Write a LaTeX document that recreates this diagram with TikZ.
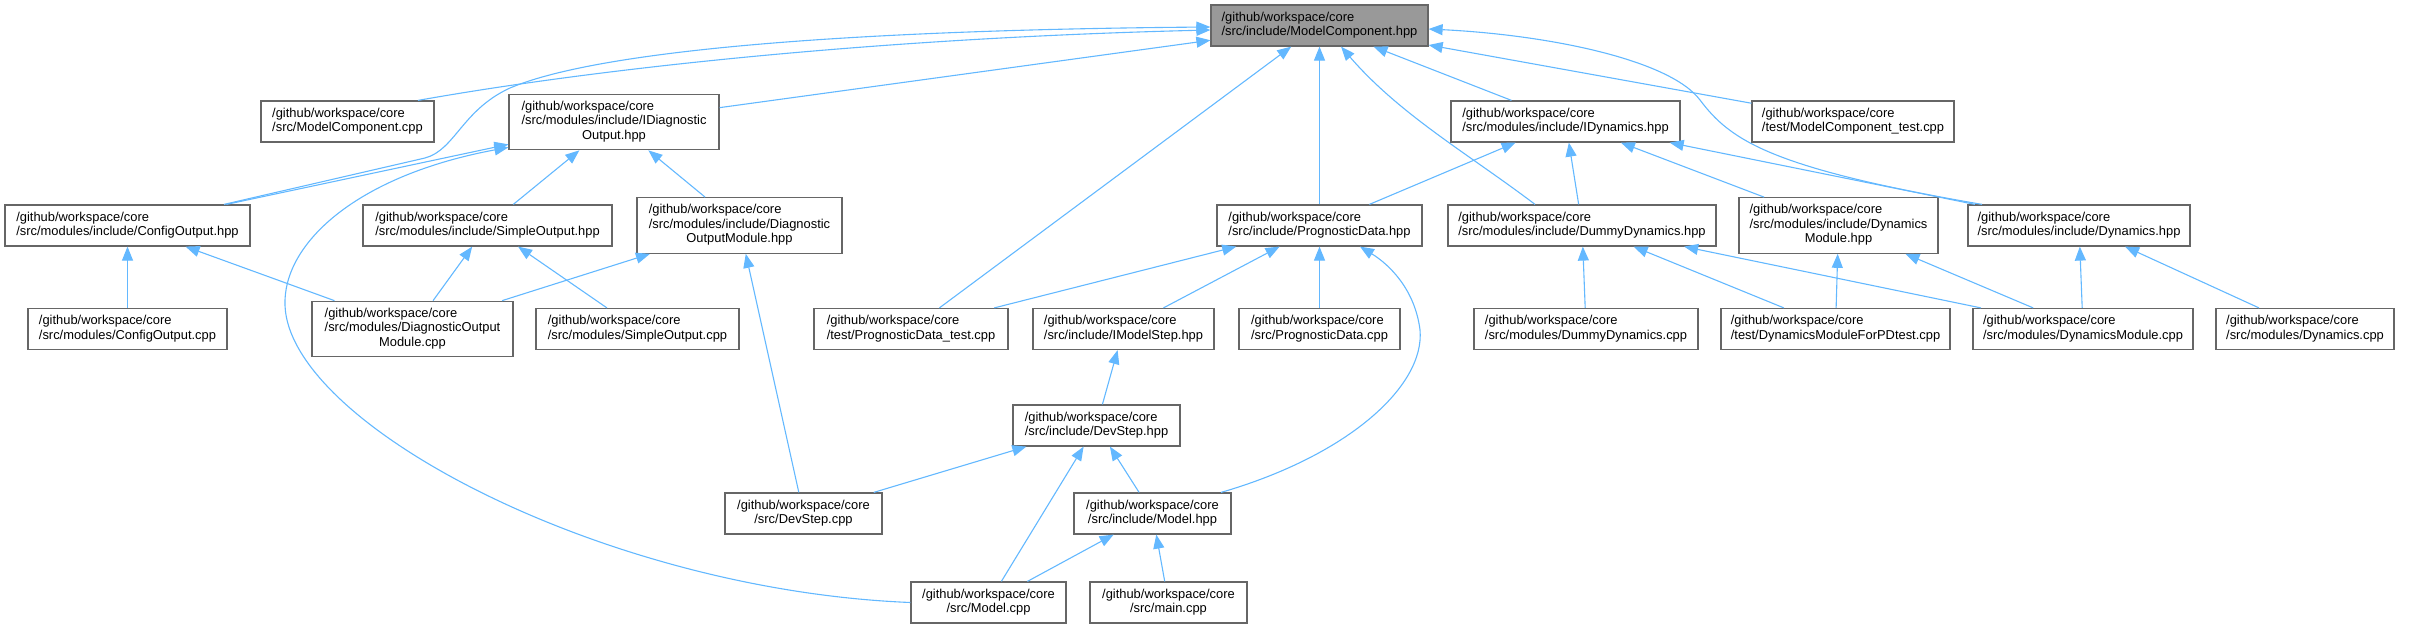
\documentclass[tikz,border=0pt]{standalone}
\usepackage{fontspec}
\setmainfont{Liberation Sans}
\usetikzlibrary{arrows.meta,calc}
\definecolor{edgeblue}{HTML}{63B8FF}
\definecolor{boxgray}{HTML}{666666}
\definecolor{rootgray}{HTML}{999999}
% first lines left, last line centred
\newcommand{\flabel}[2]{\begin{tabular}{@{}l@{}}#1\\\multicolumn{1}{@{}c@{}}{#2}\end{tabular}}

\begin{document}
\begin{tikzpicture}[x=1pt, y=-1pt,
    file/.style={draw=boxgray, fill=white, line width=1.2pt, inner sep=0pt, minimum height=41pt, font=\fontsize{12.9}{14.5}\selectfont},
    tall/.style={minimum height=55.5pt},
    root/.style={fill=rootgray},
    inc/.style={draw=edgeblue, line width=1.1pt, -{Triangle[length=14pt,width=11pt]}}]
\useasboundingbox (0,0) rectangle (2416,628);

% Root header
\node[file, root, minimum width=217pt] (mchpp) at (1319.5,25.5) {\flabel{/github/workspace/core}{/src/include/ModelComponent.hpp}};

% First level
\node[file, minimum width=173pt] (mccpp) at (347.5,121.5) {\flabel{/github/workspace/core}{/src/ModelComponent.cpp}};
\node[file, tall, minimum width=210pt] (idohpp) at (614,122) {\flabel{/github/workspace/core\\/src/modules/include/IDiagnostic}{Output.hpp}};
\node[file, minimum width=229pt] (idynhpp) at (1565.5,121.5) {\flabel{/github/workspace/core}{/src/modules/include/IDynamics.hpp}};
\node[file, minimum width=202pt] (mctest) at (1853,121.5) {\flabel{/github/workspace/core}{/test/ModelComponent\_test.cpp}};

% Second level
\node[file, minimum width=245pt] (cohpp) at (127.5,225.5) {\flabel{/github/workspace/core}{/src/modules/include/ConfigOutput.hpp}};
\node[file, minimum width=249pt] (sohpp) at (487.5,225.5) {\flabel{/github/workspace/core}{/src/modules/include/SimpleOutput.hpp}};
\node[file, tall, minimum width=205pt] (domhpp) at (739.5,225.5) {\flabel{/github/workspace/core\\/src/modules/include/Diagnostic}{OutputModule.hpp}};
\node[file, minimum width=205pt] (pdhpp) at (1319.5,225.5) {\flabel{/github/workspace/core}{/src/include/PrognosticData.hpp}};
\node[file, minimum width=268pt] (ddhpp) at (1582,225.5) {\flabel{/github/workspace/core}{/src/modules/include/DummyDynamics.hpp}};
\node[file, tall, minimum width=199pt] (dmhpp) at (1838.5,225.5) {\flabel{/github/workspace/core\\/src/modules/include/Dynamics}{Module.hpp}};
\node[file, minimum width=222pt] (dynhpp) at (2079,225.5) {\flabel{/github/workspace/core}{/src/modules/include/Dynamics.hpp}};

% Third level
\node[file, minimum width=199pt] (cocpp) at (127.5,329) {\flabel{/github/workspace/core}{/src/modules/ConfigOutput.cpp}};
\node[file, tall, minimum width=201pt] (domcpp) at (412.5,329) {\flabel{/github/workspace/core\\/src/modules/DiagnosticOutput}{Module.cpp}};
\node[file, minimum width=203pt] (socpp) at (637.5,329) {\flabel{/github/workspace/core}{/src/modules/SimpleOutput.cpp}};
\node[file, minimum width=194pt] (pdtest) at (911,329) {\flabel{/github/workspace/core}{/test/PrognosticData\_test.cpp}};
\node[file, minimum width=181pt] (imshpp) at (1123.5,329) {\flabel{/github/workspace/core}{/src/include/IModelStep.hpp}};
\node[file, minimum width=161pt] (pdcpp) at (1319.5,329) {\flabel{/github/workspace/core}{/src/PrognosticData.cpp}};
\node[file, minimum width=224pt] (ddcpp) at (1586,329) {\flabel{/github/workspace/core}{/src/modules/DummyDynamics.cpp}};
\node[file, minimum width=229pt] (dmpdtest) at (1835.5,329) {\flabel{/github/workspace/core}{/test/DynamicsModuleForPDtest.cpp}};
\node[file, minimum width=220pt] (dmcpp) at (2083,329) {\flabel{/github/workspace/core}{/src/modules/DynamicsModule.cpp}};
\node[file, minimum width=178pt] (dyncpp) at (2305,329) {\flabel{/github/workspace/core}{/src/modules/Dynamics.cpp}};

% Lower levels
\node[file, minimum width=167pt] (dshpp) at (1096.5,425.5) {\flabel{/github/workspace/core}{/src/include/DevStep.hpp}};
\node[file, minimum width=157pt] (dscpp) at (803.5,513.5) {\flabel{/github/workspace/core}{/src/DevStep.cpp}};
\node[file, minimum width=157pt] (mhpp) at (1152.5,513.5) {\flabel{/github/workspace/core}{/src/include/Model.hpp}};
\node[file, minimum width=155pt] (mcpp) at (988.5,602.5) {\flabel{/github/workspace/core}{/src/Model.cpp}};
\node[file, minimum width=157pt] (maincpp) at (1168.5,602.5) {\flabel{/github/workspace/core}{/src/main.cpp}};

% Includes of the root header
\draw[inc] ([xshift=70.5pt]mccpp.north) .. controls (600,68) and (880,38) .. ([yshift=-4.5pt]mchpp.west);
\draw[inc] ([xshift=96.5pt]cohpp.north) -- (425,158) .. controls (455,150) and (462,110) .. (510,88) .. controls (600,50) and (850,30) .. ([yshift=-1.5pt]mchpp.west);
\draw[inc] (idohpp) -- (mchpp);
\draw[inc] (pdtest) -- (mchpp);
\draw[inc] (pdhpp) -- (mchpp);
\draw[inc] ([xshift=-47pt]ddhpp.north) .. controls (1470,155) and (1400,115) .. ([xshift=21.5pt]mchpp.south);
\draw[inc] (idynhpp) -- (mchpp);
\draw[inc] (mctest) -- (mchpp);
\draw[inc] ([xshift=-97pt]dynhpp.north) .. controls (1770,168) and (1730,140) .. (1700,100) .. controls (1670,60) and (1550,35) .. ([yshift=-3.5pt]mchpp.east);

% Output headers
\draw[inc] (cohpp) -- (idohpp);
\draw[inc] (sohpp) -- (idohpp);
\draw[inc] (domhpp) -- (idohpp);
\draw[inc] (mcpp.west) .. controls (600,590) and (280,420) .. (285,300) .. controls (287,240) and (360,175) .. ([yshift=3pt]idohpp.south west);
\draw[inc] (cocpp) -- (cohpp);
\draw[inc] (domcpp) -- (cohpp);
\draw[inc] (domcpp) -- (sohpp);
\draw[inc] (domcpp) -- (domhpp);
\draw[inc] (socpp) -- (sohpp);
\draw[inc] (dscpp) -- (domhpp);

% Dynamics headers
\draw[inc] (pdhpp) -- (idynhpp);
\draw[inc] (ddhpp) -- (idynhpp);
\draw[inc] (dmhpp) -- (idynhpp);
\draw[inc] (dynhpp) -- (idynhpp);
\draw[inc] (ddcpp) -- (ddhpp);
\draw[inc] (dmpdtest) -- (ddhpp);
\draw[inc] (dmcpp) -- (ddhpp);
\draw[inc] (dmpdtest) -- (dmhpp);
\draw[inc] (dmcpp) -- (dmhpp);
\draw[inc] (dmcpp) -- (dynhpp);
\draw[inc] (dyncpp) -- (dynhpp);

% Prognostic data and steps
\draw[inc] (pdtest) -- (pdhpp);
\draw[inc] (imshpp) -- (pdhpp);
\draw[inc] (pdcpp) -- (pdhpp);
\draw[inc] ([xshift=68.5pt]mhpp.north) .. controls (1350,455) and (1425,385) .. (1420,330) .. controls (1415,290) and (1390,265) .. ([xshift=40.5pt]pdhpp.south);
\draw[inc] (dshpp) -- (imshpp);
\draw[inc] (dscpp) -- (dshpp);
\draw[inc] (mcpp) -- (dshpp);
\draw[inc] (mhpp) -- (dshpp);
\draw[inc] (mcpp) -- (mhpp);
\draw[inc] (maincpp) -- (mhpp);
\end{tikzpicture}
\end{document}
